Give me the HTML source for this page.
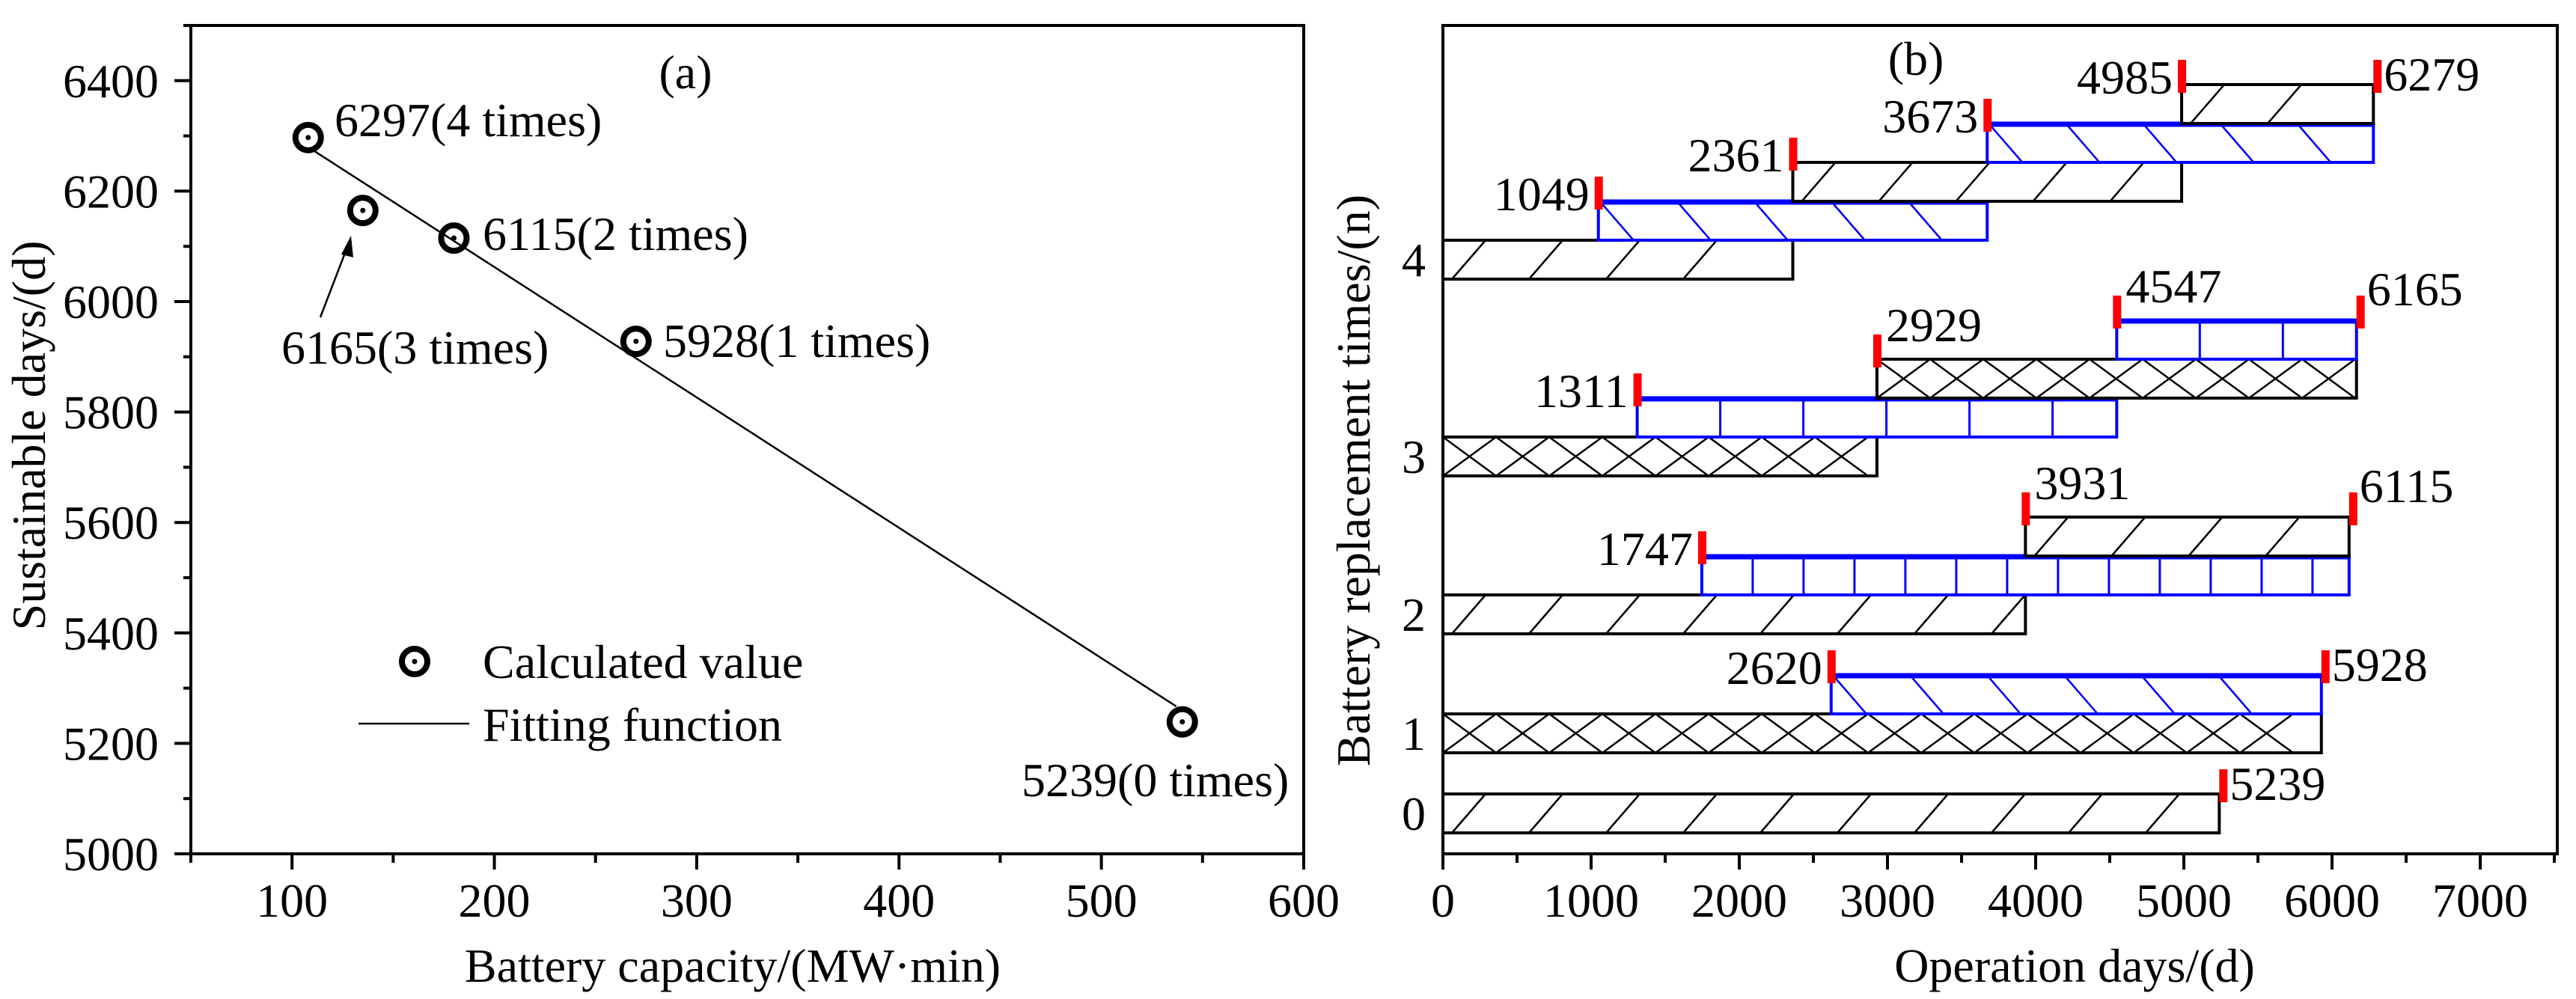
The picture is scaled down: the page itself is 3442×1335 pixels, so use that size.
<!DOCTYPE html>
<html><head><meta charset="utf-8"><style>
html,body{margin:0;padding:0;background:#fff;}
svg{display:block;}
svg text{font-family:"Liberation Serif","DejaVu Serif",serif;}
</style></head><body>
<svg id="c" width="3442" height="1335" viewBox="0 0 3442 1335" xmlns="http://www.w3.org/2000/svg" font-family="Liberation Serif, serif"></svg>
<script>
// ---- Panel (a) data ----
const capX = [108, 135, 180, 270, 540];
const daysY = [6297, 6165, 6115, 5928, 5239];
const ptLabels = ["6297(4 times)", "6165(3 times)", "6115(2 times)", "5928(1 times)", "5239(0 times)"];
const fitX = [110, 537];
const fitY = [6275, 5267];
const aXTicks = [100, 200, 300, 400, 500, 600];
const aYTicks = [5000, 5200, 5400, 5600, 5800, 6000, 6200, 6400];
// ---- Panel (b) data ----
const rows = [0, 1, 2, 3, 4];
const segStart = [[0], [0, 2620], [0, 1747, 3931], [0, 1311, 2929, 4547], [0, 1049, 2361, 3673, 4985]];
const segEnd = [[5239], [5928, 5928], [3931, 6115, 6115], [2929, 4547, 6165, 6165], [2361, 3673, 4985, 6279, 6279]];
const bXTicks = [0, 1000, 2000, 3000, 4000, 5000, 6000, 7000];

const NS = "http://www.w3.org/2000/svg";
const svg = document.getElementById('c');
function mk(tag, attrs, parent, text) {
  const e = document.createElementNS(NS, tag);
  for (const k in attrs) e.setAttribute(k, attrs[k]);
  if (tag === 'text') e.setAttribute('font-family', 'Liberation Serif, serif');
  if (text !== undefined) e.textContent = text;
  (parent || svg).appendChild(e);
  return e;
}
const FS = 64;

// ===== Panel (a) =====
const aL = 255, aR = 1742, aT = 34, aB = 1141;
const ax = v => aL + (v - 50) * (aR - aL) / 550;
const ay = v => aB - (v - 5000) * (aB - aT) / 1500;
const ga = mk('g', {});


const fa = mk('rect', {x: aL, y: aT, width: aR - aL, height: aB - aT, fill: 'none', stroke: '#000', 'stroke-width': 4}, ga);


for (let v = 50; v <= 600; v += 50) {
  const major = v % 100 === 0;
  const t = mk('line', {x1: ax(v), x2: ax(v), y1: aB, y2: aB + (major ? 21 : 12), stroke: '#000', 'stroke-width': 4}, ga);
  
  
}
aXTicks.forEach(v => {
  const t = mk('text', {x: ax(v), y: 1225, 'font-size': FS, 'text-anchor': 'middle'}, ga, v);
  
  
});
for (let v = 5000; v <= 6500; v += 100) {
  const major = v % 200 === 0 && v <= 6400;
  const t = mk('line', {x1: aL - (major ? 22 : 10), x2: aL, y1: ay(v), y2: ay(v), stroke: '#000', 'stroke-width': 4}, ga);
  
  
}
aYTicks.forEach(v => {
  const t = mk('text', {x: 212, y: ay(v) + 22, 'font-size': FS, 'text-anchor': 'end'}, ga, v);
  
  
});
const xta = mk('text', {x: 979, y: 1312, 'font-size': FS, 'text-anchor': 'middle'}, ga, 'Battery capacity/(MW·min)');


const yta = mk('text', {x: 0, y: 0, 'font-size': FS, 'text-anchor': 'middle', transform: 'translate(60,582) rotate(-90)'}, ga, 'Sustainable days/(d)');


const la = mk('text', {x: 916, y: 118, 'font-size': FS, 'text-anchor': 'middle'}, ga, '(a)');


const fit = mk('line', {x1: ax(fitX[0]), y1: ay(fitY[0]), x2: ax(fitX[1]), y2: ay(fitY[1]), stroke: '#000', 'stroke-width': 2.5}, ga);


function marker(cx, cy, parent) {
  const g = mk('g', {}, parent);
  mk('circle', {cx: cx, cy: cy, r: 17, fill: 'none', stroke: '#000', 'stroke-width': 8}, g);
  mk('circle', {cx: cx, cy: cy, r: 3.5, fill: '#000'}, g);
  return g;
}
const lblPos = [[447, 182], [376, 486], [645, 334], [886, 477], [1365, 1064]];
capX.forEach((v, i) => {
  const m = marker(ax(v), ay(daysY[i]), ga);
  
  
  const t = mk('text', {x: lblPos[i][0], y: lblPos[i][1], 'font-size': FS}, ga, ptLabels[i]);
  
  
});
const arr = mk('g', {}, ga);


mk('line', {x1: 428, y1: 424, x2: 466, y2: 325, stroke: '#000', 'stroke-width': 2.5}, arr);
mk('polygon', {points: '469,315 456,340 472,344', fill: '#000'}, arr);
const lg = mk('g', {}, ga);


marker(554, 884, lg);
mk('text', {x: 645, y: 906, 'font-size': FS}, lg, 'Calculated value');
mk('line', {x1: 479, x2: 627, y1: 967, y2: 967, stroke: '#000', 'stroke-width': 2.5}, lg);
mk('text', {x: 645, y: 990, 'font-size': FS}, lg, 'Fitting function');

// ===== Panel (b) =====
const bL = 1928, bR = 3417, bT = 34, bB = 1141;
const bx = v => bL + v * (bR - bL) / 7520;
const SEG = 52, GAP = 55, B0 = 1113;
const rowBottom = [];
let cur = B0;
rows.forEach((n, i) => { rowBottom.push(cur); cur = cur - segStart[i].length * SEG - GAP; });
const gb = mk('g', {});


const fb = mk('rect', {x: bL, y: bT, width: bR - bL, height: bB - bT, fill: 'none', stroke: '#000', 'stroke-width': 4}, gb);


for (let v = 0; v <= 7500; v += 500) {
  const major = v % 1000 === 0;
  const t = mk('line', {x1: bx(v), x2: bx(v), y1: bB, y2: bB + (major ? 21 : 12), stroke: '#000', 'stroke-width': 4}, gb);
  
  
}
bXTicks.forEach(v => {
  const t = mk('text', {x: bx(v), y: 1225, 'font-size': FS, 'text-anchor': 'middle'}, gb, v);
  
  
});
rows.forEach((n, i) => {
  const t = mk('text', {x: 1905, y: rowBottom[i] - SEG / 2 + 22, 'font-size': FS, 'text-anchor': 'end'}, gb, n);
  
  
});
const xtb = mk('text', {x: 2772, y: 1312, 'font-size': FS, 'text-anchor': 'middle'}, gb, 'Operation days/(d)');


const ytb = mk('text', {x: 0, y: 0, 'font-size': FS, 'text-anchor': 'middle', transform: 'translate(1830,642) rotate(-90)'}, gb, 'Battery replacement times/(n)');


const lb = mk('text', {x: 2560, y: 100, 'font-size': FS, 'text-anchor': 'middle'}, gb, '(b)');



const hatch = [['slash', 'back'], ['cross', 'back'], ['slash', 'grid75'], ['cross', 'grid110'], ['slash', 'back']];
function drawHatch(g, type, x0, x1, top, bot, color) {
  const w = 2.5;
  if (type === 'slash') {
    for (let x = x0 + 12; x + 45 <= x1; x += 103) mk('line', {x1: x, y1: bot, x2: x + 45, y2: top, stroke: color, 'stroke-width': w}, g);
  } else if (type === 'back') {
    for (let x = x0 + 2; x + 45 <= x1; x += 103) mk('line', {x1: x, y1: top, x2: x + 45, y2: bot, stroke: color, 'stroke-width': w}, g);
  } else if (type === 'cross') {
    for (let x = x0; x + 72 <= x1 + 2; x += 71) {
      mk('line', {x1: x, y1: top, x2: x + 71, y2: bot, stroke: color, 'stroke-width': w}, g);
      mk('line', {x1: x + 71, y1: top, x2: x, y2: bot, stroke: color, 'stroke-width': w}, g);
    }
  } else {
    const step = type === 'grid75' ? 68 : 111;
    for (let x = x0 + step; x < x1 - 5; x += step) mk('line', {x1: x, y1: top, x2: x, y2: bot, stroke: color, 'stroke-width': 3}, g);
  }
}
const startSide = [[], ['L'], ['L', 'R'], ['L', 'R', 'R'], ['L', 'L', 'L', 'L']];
rows.forEach((n, i) => {
  const starts = segStart[i], ends = segEnd[i];
  starts.forEach((s, k) => {
    const bot = rowBottom[i] - k * SEG, top = bot - SEG;
    const blue = k % 2 === 1;
    const color = blue ? '#0000ff' : '#000';
    const g = mk('g', {}, gb);
    
    
    const x0 = bx(s), x1 = bx(ends[k]);
    mk('rect', {x: x0, y: top, width: x1 - x0, height: SEG, fill: '#fff', stroke: color, 'stroke-width': 4}, g);
    drawHatch(g, hatch[i][blue ? 1 : 0], x0, x1, top, bot, color);
    if (blue && i >= 1) mk('line', {x1: x0, x2: x1, y1: top + 1, y2: top + 1, stroke: color, 'stroke-width': 7}, g);
    if (k > 0) {
      const m = mk('rect', {x: x0 - 5, y: top - 33, width: 11, height: 44, fill: '#ff0000'}, gb);
      
      
      const side = startSide[i][k - 1];
      const t = side === 'L'
        ? mk('text', {x: x0 - 12, y: top + 12, 'font-size': FS, 'text-anchor': 'end'}, gb, s)
        : mk('text', {x: x0 + 12, y: top - 24, 'font-size': FS}, gb, s);
      
      
    }
  });
  const last = ends[ends.length - 1];
  const topL = rowBottom[i] - starts.length * SEG;
  const xe = bx(last);
  const m = mk('rect', {x: xe, y: topL - 33, width: 11, height: 44, fill: '#ff0000'}, gb);
  
  
  const raise = (i === 2 || i === 3) ? -20 : 8;
  const t = mk('text', {x: xe + 14, y: topL + raise, 'font-size': FS}, gb, last);
  
  
});
</script>
</body></html>
